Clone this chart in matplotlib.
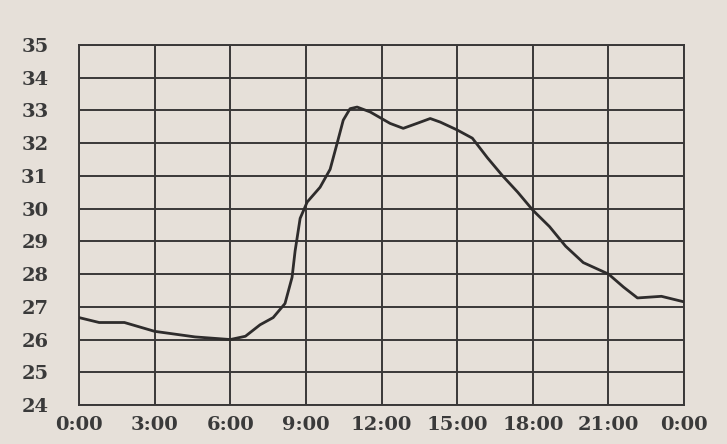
import matplotlib.pyplot as plt

# temperature over one day
hours = [0, 0.8, 1.8, 3.0, 4.6, 6.0, 6.6, 7.18, 7.7, 8.17, 8.45, 8.57, 8.77,
         9.05, 9.56, 9.96, 10.24, 10.48, 10.75, 11.03, 11.55, 12.34, 12.86,
         13.4, 13.93, 14.33, 15.0, 15.6, 16.2, 16.8, 17.4, 18.0, 18.66, 19.3,
         20.0, 21.0, 21.6, 22.15, 23.1, 24.0]
temps = [26.67, 26.52, 26.52, 26.25, 26.08, 26.0, 26.1, 26.45, 26.67, 27.1,
         27.9, 28.7, 29.7, 30.2, 30.65, 31.2, 32.0, 32.7, 33.05, 33.1, 32.95,
         32.6, 32.45, 32.6, 32.75, 32.64, 32.4, 32.15, 31.55, 31.0, 30.5,
         29.95, 29.45, 28.85, 28.35, 28.0, 27.6, 27.27, 27.32, 27.15]

x_ticks = [0, 3, 6, 9, 12, 15, 18, 21, 24]
x_labels = ["0:00", "3:00", "6:00", "9:00", "12:00", "15:00", "18:00",
            "21:00", "0:00"]
y_ticks = list(range(24, 36))

paper = "#e6e0d9"
ink = "#3a3838"

fig = plt.figure(figsize=(7.27, 4.44), dpi=100, facecolor=paper)
ax = fig.add_axes([0.1087, 0.0878, 0.8323, 0.8112], facecolor=paper)

for y in y_ticks:
    ax.axhline(y, color=ink, lw=1.4, zorder=1)
for x in x_ticks:
    ax.axvline(x, color=ink, lw=1.4, zorder=1)

ax.plot(hours, temps, color="#2e2c2c", lw=2.0, solid_joinstyle="round",
        solid_capstyle="round", zorder=3)

ax.set_xlim(0, 24)
ax.set_ylim(24, 35)
ax.set_xticks(x_ticks)
ax.set_xticklabels(x_labels)
ax.set_yticks(y_ticks)
for s in ax.spines.values():
    s.set_color(ink)
    s.set_linewidth(1.4)
ax.tick_params(length=0, labelsize=14, colors="#3a3a3a")
ax.tick_params(axis="y", pad=22)
ax.tick_params(axis="x", pad=8)
for t in ax.get_xticklabels() + ax.get_yticklabels():
    t.set_family("DejaVu Serif")
    t.set_weight("bold")

fig.savefig("out.png", dpi=100, facecolor=paper)
